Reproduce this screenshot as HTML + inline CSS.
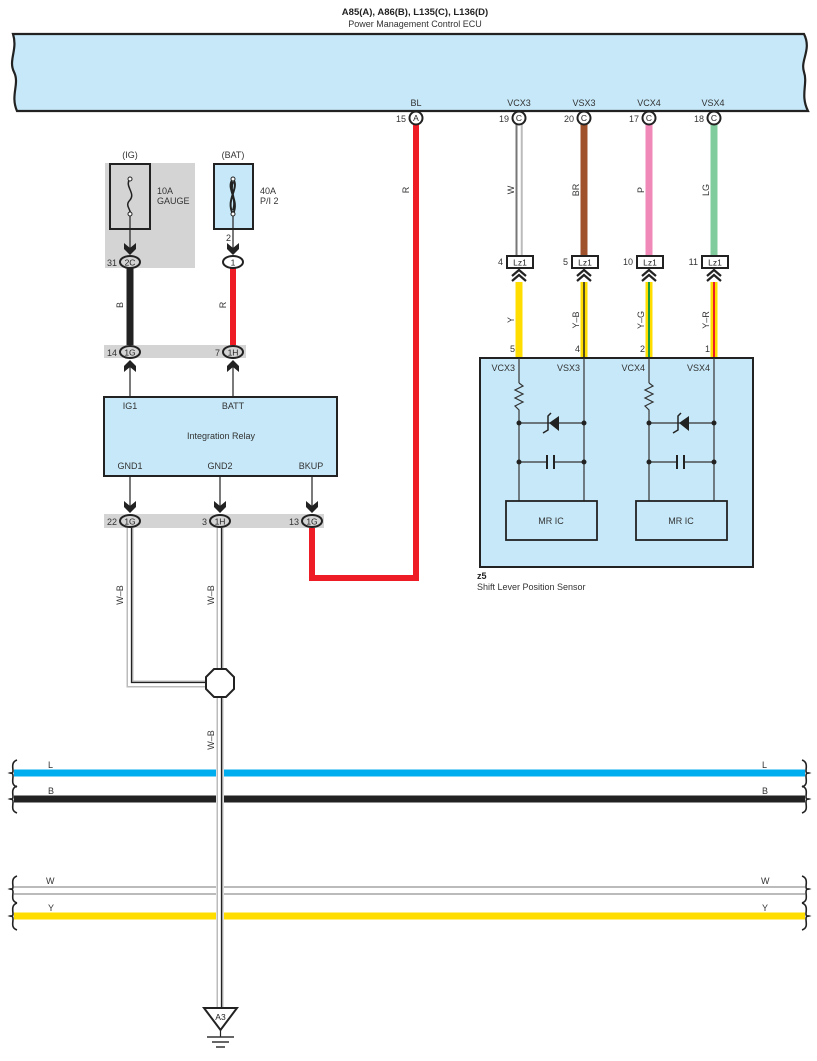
<!DOCTYPE html>
<html><head><meta charset="utf-8"><style>
html,body{margin:0;padding:0;background:#fff;}
svg{display:block;font-family:"Liberation Sans",Arial,sans-serif;}
</style></head><body>
<svg width="817" height="1061" viewBox="0 0 817 1061" xmlns="http://www.w3.org/2000/svg">
<defs>
<g id="dn"><path d="M-6,-9 L0,-4 L6,-9 L6,-3 L0,3 L-6,-3 Z" fill="#222"/></g>
<g id="up"><path d="M-6,9 L0,4 L6,9 L6,3 L0,-3 L-6,3 Z" fill="#222"/></g>
<g id="chev"><polyline points="-7,7 0,1 7,7" fill="none" stroke="#222" stroke-width="2.2"/><polyline points="-7,12 0,6 7,12" fill="none" stroke="#222" stroke-width="2.2"/></g>
<g id="brace"><path d="M3,-13 C-3,-11 -1,-5 -1,-2 C-1,1 -4,0 -4,0 C-4,0 -1,-1 -1,3 C-1,7 -3,12 3,14" fill="none" stroke="#222" stroke-width="1.6"/></g>
</defs>

<!-- ECU -->
<text x="415" y="15" font-size="9.5" font-weight="bold" text-anchor="middle" fill="#222">A85(A), A86(B), L135(C), L136(D)</text>
<text x="415" y="27" font-size="9" text-anchor="middle" fill="#333">Power Management Control ECU</text>
<path d="M13,34 L804,34 C812,50 800,60 804,72 C808,84 800,95 808,111 L17,111 C10,95 20,84 14,72 C8,60 18,50 13,34 Z" fill="#c6e8f8" stroke="#222" stroke-width="2.2"/>
<g font-size="9" fill="#333" text-anchor="middle">
<text x="416" y="106">BL</text><text x="519" y="106">VCX3</text><text x="584" y="106">VSX3</text><text x="649" y="106">VCX4</text><text x="713" y="106">VSX4</text>
</g>

<!-- right wires top -->
<line x1="519" y1="124" x2="519" y2="256" stroke="#777" stroke-width="7"/>
<line x1="519" y1="124" x2="519" y2="256" stroke="#fff" stroke-width="5"/>
<line x1="517" y1="124" x2="517" y2="256" stroke="#777" stroke-width="1"/>
<line x1="521.5" y1="124" x2="521.5" y2="256" stroke="#bbb" stroke-width="1.5"/>
<line x1="584" y1="124" x2="584" y2="256" stroke="#a0522d" stroke-width="7"/>
<line x1="649" y1="124" x2="649" y2="256" stroke="#f088b8" stroke-width="7"/>
<line x1="714" y1="124" x2="714" y2="256" stroke="#80cc9c" stroke-width="7"/>

<!-- red BL wire -->
<polyline points="416,124 416,578 312,578 312,527" fill="none" stroke="#ee1c25" stroke-width="6"/>

<!-- ECU pins -->
<g fill="#fff" stroke="#222" stroke-width="2">
<circle cx="416" cy="118" r="6.5"/><circle cx="519" cy="118" r="6.5"/><circle cx="584" cy="118" r="6.5"/><circle cx="649" cy="118" r="6.5"/><circle cx="714" cy="118" r="6.5"/>
</g>
<g font-size="8.5" fill="#222" text-anchor="middle">
<text x="416" y="121">A</text><text x="519" y="121">C</text><text x="584" y="121">C</text><text x="649" y="121">C</text><text x="714" y="121">C</text>
</g>
<g font-size="9" fill="#333" text-anchor="end">
<text x="406" y="122">15</text><text x="509" y="122">19</text><text x="574" y="122">20</text><text x="639" y="122">17</text><text x="704" y="122">18</text>
</g>

<!-- wire labels rotated -->
<g font-size="9" fill="#333" text-anchor="middle">
<text transform="translate(409,190) rotate(-90)">R</text>
<text transform="translate(514,190) rotate(-90)">W</text>
<text transform="translate(579,190) rotate(-90)">BR</text>
<text transform="translate(644,190) rotate(-90)">P</text>
<text transform="translate(709,190) rotate(-90)">LG</text>
<text transform="translate(514,320) rotate(-90)">Y</text>
<text transform="translate(579,320) rotate(-90)">Y–B</text>
<text transform="translate(644,320) rotate(-90)">Y–G</text>
<text transform="translate(709,320) rotate(-90)">Y–R</text>
<text transform="translate(123,305) rotate(-90)">B</text>
<text transform="translate(226,305) rotate(-90)">R</text>
<text transform="translate(123,595) rotate(-90)">W–B</text>
<text transform="translate(214,595) rotate(-90)">W–B</text>
<text transform="translate(214,740) rotate(-90)">W–B</text>
</g>

<!-- lower colored wires -->
<line x1="519" y1="282" x2="519" y2="358" stroke="#ffdd00" stroke-width="7"/>
<line x1="584" y1="282" x2="584" y2="358" stroke="#ffdd00" stroke-width="7"/>
<line x1="584" y1="282" x2="584" y2="358" stroke="#222" stroke-width="1.5"/>
<line x1="649" y1="282" x2="649" y2="358" stroke="#ffdd00" stroke-width="7"/>
<line x1="649" y1="282" x2="649" y2="358" stroke="#1a9a3a" stroke-width="2"/>
<line x1="714" y1="282" x2="714" y2="358" stroke="#ffdd00" stroke-width="7"/>
<line x1="714" y1="282" x2="714" y2="358" stroke="#ee1c25" stroke-width="2"/>

<!-- Lz1 -->
<g fill="#fff" stroke="#222" stroke-width="2">
<rect x="507" y="256" width="26" height="12"/><rect x="572" y="256" width="26" height="12"/><rect x="637" y="256" width="26" height="12"/><rect x="702" y="256" width="26" height="12"/>
</g>
<g font-size="8.5" fill="#222" text-anchor="middle">
<text x="520" y="265.5">Lz1</text><text x="585" y="265.5">Lz1</text><text x="650" y="265.5">Lz1</text><text x="715" y="265.5">Lz1</text>
</g>
<g font-size="9" fill="#333" text-anchor="end">
<text x="503" y="265">4</text><text x="568" y="265">5</text><text x="633" y="265">10</text><text x="698" y="265">11</text>
</g>
<use href="#chev" x="519" y="269"/><use href="#chev" x="584" y="269"/><use href="#chev" x="649" y="269"/><use href="#chev" x="714" y="269"/>
<g font-size="9" fill="#333" text-anchor="end">
<text x="515" y="352">5</text><text x="580" y="352">4</text><text x="645" y="352">2</text><text x="710" y="352">1</text>
</g>

<!-- sensor -->
<rect x="480" y="358" width="273" height="209" fill="#c6e8f8" stroke="#222" stroke-width="2"/>
<g font-size="9" fill="#333" text-anchor="end">
<text x="515" y="371">VCX3</text><text x="580" y="371">VSX3</text><text x="645" y="371">VCX4</text><text x="710" y="371">VSX4</text>
</g>
<g stroke="#333" stroke-width="1.2" fill="none">
<line x1="519" y1="358" x2="519" y2="383"/><line x1="519" y1="412" x2="519" y2="501"/>
<polyline points="519,383 523,386 515,390 523,394 515,398 523,402 515,406 519,410 519,412"/>
<line x1="584" y1="358" x2="584" y2="501"/>
<line x1="519" y1="423" x2="584" y2="423"/>
<line x1="519" y1="462" x2="547" y2="462"/><line x1="555" y1="462" x2="584" y2="462"/>
<line x1="649" y1="358" x2="649" y2="383"/><line x1="649" y1="412" x2="649" y2="501"/>
<polyline points="649,383 653,386 645,390 653,394 645,398 653,402 645,406 649,410 649,412"/>
<line x1="714" y1="358" x2="714" y2="501"/>
<line x1="649" y1="423" x2="714" y2="423"/>
<line x1="649" y1="462" x2="677" y2="462"/><line x1="685" y1="462" x2="714" y2="462"/>
</g>
<g stroke="#222" stroke-width="2">
<line x1="547" y1="455" x2="547" y2="469"/><line x1="554" y1="455" x2="554" y2="469"/>
<line x1="677" y1="455" x2="677" y2="469"/><line x1="684" y1="455" x2="684" y2="469"/>
<polyline points="543,433 548,430 548,416 551,413" fill="none" stroke-width="1.5"/>
<polyline points="673,433 678,430 678,416 681,413" fill="none" stroke-width="1.5"/>
</g>
<polygon points="549,423 559,416 559,431" fill="#222"/>
<polygon points="679,423 689,416 689,431" fill="#222"/>
<g fill="#222">
<circle cx="519" cy="423" r="2.5"/><circle cx="584" cy="423" r="2.5"/><circle cx="519" cy="462" r="2.5"/><circle cx="584" cy="462" r="2.5"/>
<circle cx="649" cy="423" r="2.5"/><circle cx="714" cy="423" r="2.5"/><circle cx="649" cy="462" r="2.5"/><circle cx="714" cy="462" r="2.5"/>
</g>
<rect x="506" y="501" width="91" height="39" fill="#c6e8f8" stroke="#222" stroke-width="1.8"/>
<rect x="636" y="501" width="91" height="39" fill="#c6e8f8" stroke="#222" stroke-width="1.8"/>
<text x="551" y="524" font-size="9" fill="#333" text-anchor="middle">MR IC</text>
<text x="681" y="524" font-size="9" fill="#333" text-anchor="middle">MR IC</text>
<text x="477" y="579" font-size="9" font-weight="bold" fill="#222">z5</text>
<text x="477" y="590" font-size="9" fill="#333">Shift Lever Position Sensor</text>

<!-- fuses -->
<rect x="105" y="163" width="90" height="105" fill="#d4d4d4"/>
<text x="130" y="158" font-size="9" fill="#333" text-anchor="middle">(IG)</text>
<rect x="110" y="164" width="40" height="65" fill="#d4d4d4" stroke="#222" stroke-width="2"/>
<path d="M130,179 C124,186 136,193 130,200 C124,206 132,210 130,214" fill="none" stroke="#222" stroke-width="1.5"/>
<circle cx="130" cy="179" r="2" fill="#fff" stroke="#222"/><circle cx="130" cy="214" r="2" fill="#fff" stroke="#222"/>
<text x="157" y="194" font-size="9" fill="#333">10A</text><text x="157" y="204" font-size="9" fill="#333">GAUGE</text>
<text x="233" y="158" font-size="9" fill="#333" text-anchor="middle">(BAT)</text>
<rect x="214" y="164" width="39" height="65" fill="#c6e8f8" stroke="#222" stroke-width="2"/>
<path d="M233,179 C225,188 240,200 233,214 M233,179 C240,188 225,200 233,214 M233,182 C229,190 237,200 233,210" fill="none" stroke="#222" stroke-width="2"/>
<circle cx="233" cy="179" r="2" fill="#fff" stroke="#222"/><circle cx="233" cy="214" r="2" fill="#fff" stroke="#222"/>
<text x="260" y="194" font-size="9" fill="#333">40A</text><text x="260" y="204" font-size="9" fill="#333">P/I 2</text>
<text x="226" y="241" font-size="9" fill="#333">2</text>
<line x1="130" y1="216" x2="130" y2="250" stroke="#222" stroke-width="1.2"/>
<line x1="233" y1="216" x2="233" y2="250" stroke="#222" stroke-width="1.2"/>
<use href="#dn" x="130" y="252"/><use href="#dn" x="233" y="252"/>

<!-- B and R wires -->
<line x1="130" y1="266" x2="130" y2="348" stroke="#222" stroke-width="7"/>
<line x1="233" y1="266" x2="233" y2="348" stroke="#ee1c25" stroke-width="6"/>
<ellipse cx="130" cy="262" rx="10" ry="6" fill="#d4d4d4" stroke="#222" stroke-width="2"/>
<text x="130" y="265.5" font-size="8.5" text-anchor="middle" fill="#222">2C</text>
<text x="117" y="266" font-size="9" fill="#333" text-anchor="end">31</text>
<ellipse cx="233" cy="262" rx="10" ry="6" fill="#fff" stroke="#222" stroke-width="2"/>
<text x="233" y="265.5" font-size="8.5" text-anchor="middle" fill="#222">1</text>

<rect x="104" y="345" width="142" height="13" fill="#d4d4d4"/>
<ellipse cx="130" cy="352" rx="10" ry="6" fill="#d4d4d4" stroke="#222" stroke-width="2"/>
<text x="130" y="355.5" font-size="8.5" text-anchor="middle" fill="#222">1G</text>
<text x="117" y="356" font-size="9" fill="#333" text-anchor="end">14</text>
<ellipse cx="233" cy="352" rx="10" ry="6" fill="#d4d4d4" stroke="#222" stroke-width="2"/>
<text x="233" y="355.5" font-size="8.5" text-anchor="middle" fill="#222">1H</text>
<text x="220" y="356" font-size="9" fill="#333" text-anchor="end">7</text>
<use href="#up" x="130" y="363"/><use href="#up" x="233" y="363"/>
<line x1="130" y1="366" x2="130" y2="397" stroke="#222" stroke-width="1.2"/>
<line x1="233" y1="366" x2="233" y2="397" stroke="#222" stroke-width="1.2"/>

<!-- relay -->
<rect x="104" y="397" width="233" height="79" fill="#c6e8f8" stroke="#222" stroke-width="2"/>
<g font-size="9" fill="#333" text-anchor="middle">
<text x="130" y="409">IG1</text><text x="233" y="409">BATT</text>
<text x="221" y="439">Integration Relay</text>
<text x="130" y="469">GND1</text><text x="220" y="469">GND2</text><text x="311" y="469">BKUP</text>
</g>
<line x1="130" y1="476" x2="130" y2="506" stroke="#222" stroke-width="1.2"/>
<line x1="220" y1="476" x2="220" y2="506" stroke="#222" stroke-width="1.2"/>
<line x1="312" y1="476" x2="312" y2="506" stroke="#222" stroke-width="1.2"/>
<use href="#dn" x="130" y="510"/><use href="#dn" x="220" y="510"/><use href="#dn" x="312" y="510"/>

<!-- W-B wires -->
<g fill="none">
<polyline points="130,526 130,684 210,684" stroke="#bbb" stroke-width="7"/>
<polyline points="130,526 130,684 210,684" stroke="#fff" stroke-width="4"/>
<polyline points="131.5,526 131.5,682.5 210,682.5" stroke="#222" stroke-width="1.3"/>
<line x1="220" y1="526" x2="220" y2="1010" stroke="#bbb" stroke-width="7"/>
<line x1="220" y1="526" x2="220" y2="1010" stroke="#fff" stroke-width="4"/>
<line x1="221.5" y1="526" x2="221.5" y2="1010" stroke="#222" stroke-width="1.3"/>
</g>
<polygon points="214,669 226,669 234,677 234,689 226,697 214,697 206,689 206,677" fill="#fff" stroke="#222" stroke-width="2"/>

<rect x="104" y="514" width="220" height="14" fill="#d4d4d4"/>
<ellipse cx="130" cy="521" rx="10" ry="6" fill="#d4d4d4" stroke="#222" stroke-width="2"/>
<text x="130" y="524.5" font-size="8.5" text-anchor="middle" fill="#222">1G</text>
<text x="117" y="525" font-size="9" fill="#333" text-anchor="end">22</text>
<ellipse cx="220" cy="521" rx="10" ry="6" fill="#d4d4d4" stroke="#222" stroke-width="2"/>
<text x="220" y="524.5" font-size="8.5" text-anchor="middle" fill="#222">1H</text>
<text x="207" y="525" font-size="9" fill="#333" text-anchor="end">3</text>
<ellipse cx="312" cy="521" rx="10" ry="6" fill="#d4d4d4" stroke="#222" stroke-width="2"/>
<text x="312" y="524.5" font-size="8.5" text-anchor="middle" fill="#222">1G</text>
<text x="299" y="525" font-size="9" fill="#333" text-anchor="end">13</text>

<!-- bus lines -->
<line x1="14" y1="773" x2="216" y2="773" stroke="#00aeef" stroke-width="7"/>
<line x1="224" y1="773" x2="805" y2="773" stroke="#00aeef" stroke-width="7"/>
<line x1="14" y1="799" x2="216" y2="799" stroke="#222" stroke-width="7"/>
<line x1="224" y1="799" x2="805" y2="799" stroke="#222" stroke-width="7"/>
<g stroke="#777" stroke-width="1">
<line x1="14" y1="887" x2="216" y2="887"/><line x1="224" y1="887" x2="805" y2="887"/>
<line x1="14" y1="894" x2="216" y2="894"/><line x1="224" y1="894" x2="805" y2="894"/>
</g>
<line x1="14" y1="916" x2="216" y2="916" stroke="#ffdd00" stroke-width="7"/>
<line x1="224" y1="916" x2="805" y2="916" stroke="#ffdd00" stroke-width="7"/>
<use href="#brace" x="14" y="773"/><use href="#brace" x="14" y="799"/><use href="#brace" x="14" y="889"/><use href="#brace" x="14" y="916"/>
<g transform="translate(819,0) scale(-1,1)"><use href="#brace" x="14" y="773"/><use href="#brace" x="14" y="799"/><use href="#brace" x="14" y="889"/><use href="#brace" x="14" y="916"/></g>
<g font-size="9" fill="#333">
<text x="48" y="768">L</text><text x="762" y="768">L</text>
<text x="48" y="794">B</text><text x="762" y="794">B</text>
<text x="46" y="884">W</text><text x="761" y="884">W</text>
<text x="48" y="911">Y</text><text x="762" y="911">Y</text>
</g>

<!-- ground -->
<polygon points="204,1008 237,1008 220.5,1030" fill="#fff" stroke="#222" stroke-width="2"/>
<text x="220.5" y="1020" font-size="8.5" text-anchor="middle" fill="#222">A3</text>
<line x1="220.5" y1="1030" x2="220.5" y2="1037" stroke="#222" stroke-width="1.2"/>
<line x1="207" y1="1037" x2="234" y2="1037" stroke="#333" stroke-width="1.5"/>
<line x1="212" y1="1042" x2="229" y2="1042" stroke="#333" stroke-width="1.5"/>
<line x1="216" y1="1047" x2="225" y2="1047" stroke="#333" stroke-width="1.5"/>
</svg>
</body></html>
